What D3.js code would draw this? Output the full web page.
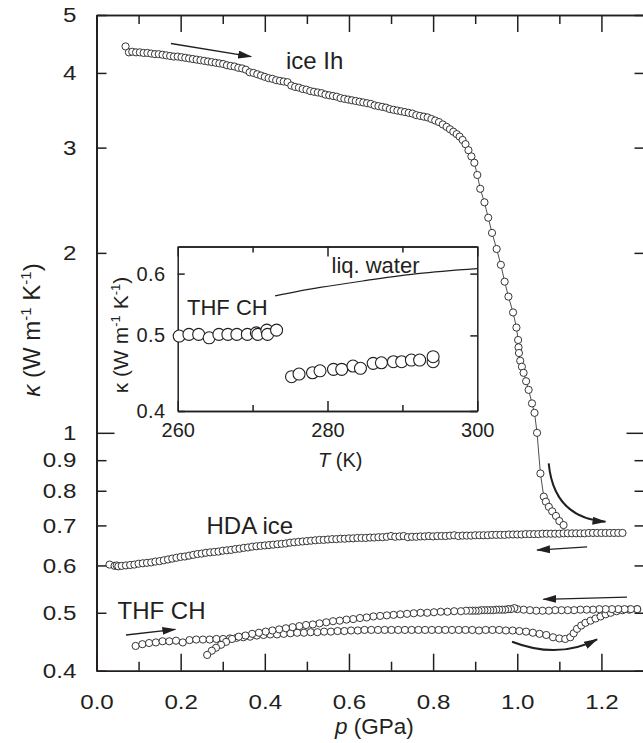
<!DOCTYPE html>
<html><head><meta charset="utf-8">
<script src="https://cdn.jsdelivr.net/npm/d3@7"></script>
<style>
html,body{margin:0;padding:0;background:#fff;}
svg{display:block;font-family:"Liberation Sans",Arial,Helvetica,sans-serif;}
.axis path,.axis line{stroke:#231f20;stroke-width:1.5;}
.axis text{fill:#231f20;}
</style></head><body>
<svg id="chart" width="643" height="743"></svg>
<script>
// ---------------- data ----------------
const xTicksMajor = [0,0.2,0.4,0.6,0.8,1.0,1.2];
const xTicksMinor = [0.1,0.3,0.5,0.7,0.9,1.1];
const yTicksShort = [0.4,0.5,0.6,0.7,0.8,0.9,2,3,4,5];
const yTicksLong = [1];
const yTickLabels = [0.4,0.5,0.6,0.7,0.8,0.9,1,2,3,4,5];

// ice Ih (compression) [p GPa, kappa]
const iceIh = [[0.069,4.43],[0.077,4.33],[0.085,4.34],[0.094,4.33],[0.103,4.33],[0.112,4.32],[0.121,4.32],[0.130,4.31],[0.139,4.30],[0.148,4.30],[0.157,4.29],[0.166,4.28],[0.175,4.27],[0.184,4.26],[0.193,4.26],[0.202,4.25],[0.211,4.24],[0.220,4.23],[0.229,4.22],[0.238,4.21],[0.247,4.20],[0.256,4.19],[0.265,4.18],[0.274,4.17],[0.283,4.16],[0.292,4.15],[0.301,4.14],[0.310,4.12],[0.319,4.11],[0.328,4.10],[0.337,4.08],[0.346,4.07],[0.355,4.05],[0.364,4.01],[0.373,4.00],[0.382,3.98],[0.391,3.96],[0.400,3.94],[0.409,3.92],[0.418,3.91],[0.427,3.89],[0.436,3.88],[0.445,3.87],[0.454,3.86],[0.463,3.81],[0.472,3.79],[0.481,3.78],[0.490,3.76],[0.499,3.75],[0.508,3.73],[0.517,3.72],[0.526,3.71],[0.535,3.70],[0.544,3.68],[0.553,3.67],[0.562,3.66],[0.571,3.65],[0.580,3.63],[0.589,3.62],[0.598,3.61],[0.607,3.60],[0.616,3.59],[0.625,3.58],[0.634,3.57],[0.643,3.56],[0.652,3.55],[0.661,3.53],[0.670,3.52],[0.679,3.51],[0.688,3.50],[0.697,3.48],[0.706,3.47],[0.715,3.46],[0.724,3.45],[0.733,3.44],[0.742,3.43],[0.751,3.42],[0.760,3.40],[0.769,3.39],[0.778,3.38],[0.787,3.37],[0.796,3.35],[0.805,3.33],[0.814,3.31],[0.823,3.28],[0.832,3.25],[0.840,3.22],[0.848,3.19],[0.856,3.16],[0.863,3.13],[0.870,3.09],[0.877,3.04],[0.884,2.97],[0.891,2.90],[0.898,2.83],[0.905,2.70],[0.912,2.56],[0.922,2.43],[0.931,2.29],[0.940,2.16],[0.951,2.03],[0.961,1.91],[0.970,1.79],[0.979,1.69],[0.990,1.59],[0.998,1.50],[1.002,1.43],[1.003,1.39],[1.004,1.36],[1.007,1.32],[1.011,1.29],[1.015,1.26],[1.021,1.22],[1.027,1.18],[1.035,1.12],[1.041,1.08],[1.047,1.00],[1.055,0.855],[1.063,0.782],[1.068,0.767],[1.075,0.752],[1.083,0.739],[1.092,0.726],[1.100,0.712],[1.110,0.701]];

// HDA ice (decompression)
const hdaIce = [[0.031,0.602],[0.043,0.599],[0.048,0.600],[0.052,0.598],[0.06,0.599],[0.07,0.600],[0.08,0.601],[0.09,0.602],[0.10,0.604],[0.11,0.605],[0.12,0.606],[0.13,0.607],[0.14,0.609],[0.15,0.610],[0.16,0.612],[0.17,0.614],[0.18,0.616],[0.19,0.618],[0.20,0.620],[0.21,0.621],[0.22,0.623],[0.23,0.625],[0.24,0.627],[0.25,0.628],[0.26,0.630],[0.27,0.631],[0.28,0.632],[0.29,0.633],[0.30,0.635],[0.31,0.636],[0.32,0.637],[0.33,0.639],[0.34,0.640],[0.35,0.642],[0.36,0.643],[0.37,0.645],[0.38,0.646],[0.39,0.647],[0.40,0.648],[0.41,0.649],[0.42,0.650],[0.43,0.651],[0.44,0.652],[0.45,0.653],[0.46,0.655],[0.47,0.656],[0.48,0.657],[0.49,0.658],[0.50,0.659],[0.51,0.660],[0.52,0.661],[0.53,0.662],[0.54,0.662],[0.55,0.663],[0.56,0.664],[0.57,0.664],[0.58,0.665],[0.59,0.665],[0.60,0.666],[0.61,0.666],[0.62,0.667],[0.63,0.667],[0.64,0.667],[0.65,0.668],[0.66,0.668],[0.67,0.669],[0.68,0.669],[0.69,0.670],[0.70,0.672],[0.71,0.670],[0.72,0.671],[0.73,0.672],[0.74,0.669],[0.75,0.670],[0.76,0.670],[0.77,0.671],[0.78,0.671],[0.79,0.672],[0.80,0.671],[0.81,0.672],[0.82,0.672],[0.83,0.672],[0.84,0.673],[0.85,0.674],[0.86,0.672],[0.87,0.673],[0.88,0.673],[0.89,0.673],[0.90,0.674],[0.91,0.674],[0.92,0.674],[0.93,0.674],[0.94,0.675],[0.95,0.675],[0.96,0.675],[0.97,0.675],[0.98,0.676],[0.99,0.676],[1.00,0.676],[1.01,0.676],[1.02,0.677],[1.03,0.677],[1.04,0.677],[1.05,0.677],[1.06,0.678],[1.07,0.678],[1.08,0.678],[1.09,0.678],[1.10,0.678],[1.11,0.679],[1.12,0.679],[1.13,0.679],[1.14,0.679],[1.15,0.679],[1.16,0.679],[1.17,0.680],[1.18,0.680],[1.19,0.680],[1.20,0.680],[1.21,0.680],[1.22,0.680],[1.23,0.680],[1.24,0.680],[1.25,0.680]];

// THF CH compression
const thfUp = [[0.093,0.440],[0.109,0.443],[0.125,0.445],[0.141,0.446],[0.157,0.448],[0.173,0.448],[0.189,0.449],[0.205,0.446],[0.221,0.450],[0.237,0.451],[0.253,0.451],[0.269,0.451],[0.285,0.452],[0.301,0.452],[0.317,0.453],[0.333,0.454],[0.349,0.455],[0.365,0.456],[0.381,0.458],[0.397,0.459],[0.413,0.460],[0.429,0.460],[0.445,0.461],[0.461,0.462],[0.477,0.463],[0.493,0.463],[0.509,0.464],[0.525,0.464],[0.541,0.465],[0.557,0.465],[0.573,0.466],[0.589,0.466],[0.605,0.467],[0.621,0.467],[0.637,0.468],[0.653,0.468],[0.669,0.468],[0.685,0.468],[0.701,0.468],[0.717,0.468],[0.733,0.468],[0.749,0.468],[0.765,0.468],[0.781,0.468],[0.797,0.468],[0.813,0.468],[0.829,0.468],[0.845,0.468],[0.861,0.468],[0.877,0.468],[0.893,0.468],[0.909,0.467],[0.925,0.468],[0.941,0.468],[0.957,0.468],[0.973,0.467],[0.989,0.467],[1.005,0.466],[1.021,0.465],[1.037,0.463],[1.053,0.461],[1.069,0.459],[1.085,0.455],[1.100,0.453],[1.114,0.452],[1.126,0.455],[1.134,0.462],[1.142,0.470],[1.152,0.476],[1.162,0.481],[1.174,0.485],[1.186,0.489],[1.198,0.493],[1.210,0.497],[1.222,0.500],[1.236,0.503],[1.250,0.505],[1.266,0.506],[1.285,0.507]];

// THF CH decompression
const thfDown = [[1.285,0.507],[1.270,0.507],[1.255,0.507],[1.240,0.507],[1.225,0.507],[1.210,0.507],[1.195,0.507],[1.180,0.506],[1.165,0.506],[1.150,0.506],[1.135,0.505],[1.120,0.505],[1.105,0.505],[1.090,0.505],[1.075,0.504],[1.060,0.504],[1.045,0.504],[1.030,0.505],[1.015,0.506],[1.000,0.507],[0.993,0.509],[0.985,0.507],[0.978,0.507],[0.971,0.506],[0.964,0.506],[0.957,0.506],[0.950,0.506],[0.943,0.505],[0.936,0.505],[0.929,0.505],[0.922,0.505],[0.915,0.505],[0.908,0.504],[0.901,0.504],[0.894,0.504],[0.887,0.504],[0.878,0.504],[0.866,0.503],[0.850,0.503],[0.834,0.502],[0.818,0.502],[0.802,0.501],[0.786,0.500],[0.770,0.500],[0.754,0.499],[0.738,0.498],[0.722,0.497],[0.706,0.496],[0.690,0.495],[0.674,0.494],[0.658,0.493],[0.642,0.491],[0.626,0.490],[0.610,0.488],[0.594,0.487],[0.578,0.485],[0.562,0.484],[0.546,0.482],[0.530,0.480],[0.514,0.478],[0.498,0.477],[0.482,0.475],[0.466,0.473],[0.450,0.471],[0.434,0.469],[0.418,0.467],[0.402,0.465],[0.386,0.463],[0.370,0.461],[0.354,0.458],[0.338,0.456],[0.322,0.452],[0.308,0.447],[0.296,0.442],[0.284,0.437],[0.274,0.432],[0.263,0.425]];

// inset: T (K) vs kappa
const insetXTicksMajor = [260,280,300];
const insetXTicksMinor = [270,290];
const insetYTicks = [0.4,0.5,0.6];
const insetSolid = [[260.2,0.499],[261.5,0.5015],[262.8,0.5015],[264.2,0.4965],[265.5,0.5015],[266.7,0.5015],[267.9,0.5015],[269.3,0.5015],[270.5,0.5038],[270.7,0.5015],[271.9,0.5078],[272.0,0.5015],[273.2,0.5078]];
const insetLiquid = [[275.2,0.4426],[276.2,0.4461],[278.0,0.4478],[279.0,0.4504],[280.8,0.4523],[281.9,0.4523],[283.4,0.4568],[284.4,0.4537],[286.1,0.4604],[287.2,0.4612],[288.8,0.4626],[289.9,0.4626],[291.2,0.4649],[292.3,0.4649],[294.1,0.4626],[294.1,0.4695]];
const liqWater = [[273.0,0.562],[279.0,0.576],[285.2,0.588],[292.0,0.600],[300.0,0.609]];

// arrows (data coordinates)
const arrowStraight = [
  [[0.177,4.48],[0.3675,4.26]],
  [[0.070,0.459],[0.1874,0.469]],
  [[1.166,0.6446],[1.047,0.6367]],
  [[1.2607,0.5312],[1.062,0.5266]]
];
const arrowCurved = [
  [[1.0747,0.889],[1.087,0.721],[1.2096,0.710]],
  [[0.9876,0.4472],[1.0973,0.4175],[1.1898,0.4514]]
];

// ---------------- drawing ----------------
const ink = "#231f20";
const svg = d3.select("#chart");
const x = d3.scaleLinear().domain([0,1.3]).range([96.5,643.5]);
const y = d3.scaleLog().domain([0.4,5]).range([670.7,15]);

const defs = svg.append("defs");
defs.append("marker").attr("id","ah").attr("viewBox","0 0 14 8").attr("refX",13).attr("refY",4)
  .attr("markerWidth",14).attr("markerHeight",8).attr("markerUnits","userSpaceOnUse").attr("orient","auto")
  .append("path").attr("d","M0,0 L14,4 L0,8 Z").attr("fill",ink);

// main axes
svg.append("g").attr("class","axis").attr("transform","translate(0,670.7)")
  .call(d3.axisBottom(x).tickValues(xTicksMajor).tickSize(-17).tickSizeOuter(0).tickPadding(23).tickFormat(d3.format(".1f")))
  .call(g=>g.selectAll("text").attr("font-size",21).attr("transform","scale(1.15,1)"));
svg.append("g").attr("class","axis").attr("transform","translate(0,670.7)")
  .call(d3.axisBottom(x).tickValues(xTicksMinor).tickSize(-9).tickSizeOuter(0).tickFormat(""));
svg.append("g").attr("class","axis").attr("transform","translate(0,15)")
  .call(d3.axisTop(x).tickValues(xTicksMajor).tickSize(-17).tickSizeOuter(0).tickFormat(""));
svg.append("g").attr("class","axis").attr("transform","translate(0,15)")
  .call(d3.axisTop(x).tickValues(xTicksMinor).tickSize(-9).tickSizeOuter(0).tickFormat(""));

const fmtY = d=> d>=1 ? d3.format("d")(d) : d3.format(".1f")(d);
svg.append("g").attr("class","axis").attr("transform","translate(96.5,0)")
  .call(d3.axisLeft(y).tickValues(yTickLabels).tickSize(0).tickSizeOuter(0).tickPadding(17.5).tickFormat(fmtY))
  .call(g=>g.selectAll("text").attr("font-size",21).attr("transform","scale(1.15,1)"));
svg.append("g").attr("class","axis").attr("transform","translate(96.5,0)")
  .call(d3.axisLeft(y).tickValues(yTicksShort).tickSize(-10).tickSizeOuter(0).tickFormat(""));
svg.append("g").attr("class","axis").attr("transform","translate(96.5,0)")
  .call(d3.axisLeft(y).tickValues(yTicksLong).tickSize(-18).tickSizeOuter(0).tickFormat(""));
svg.append("g").attr("class","axis").attr("transform","translate(643.5,0)")
  .call(d3.axisRight(y).tickValues(yTicksShort).tickSize(-9).tickSizeOuter(0).tickFormat(""));
svg.append("g").attr("class","axis").attr("transform","translate(643.5,0)")
  .call(d3.axisRight(y).tickValues(yTicksLong).tickSize(-17).tickSizeOuter(0).tickFormat(""));
svg.selectAll(".axis .domain").attr("stroke-width",1.6);

// axis titles
const yt = svg.append("text").attr("transform","translate(40,330) rotate(-90)").attr("text-anchor","middle")
  .attr("font-size",24).attr("fill",ink);
yt.append("tspan").attr("font-style","italic").text("κ");
yt.append("tspan").text(" (W m");
yt.append("tspan").attr("font-size",15).attr("dy",-9).text("-1");
yt.append("tspan").attr("dy",9).text(" K");
yt.append("tspan").attr("font-size",15).attr("dy",-9).text("-1");
yt.append("tspan").attr("dy",9).text(")");

const xt = svg.append("text").attr("x",335).attr("y",734).attr("font-size",22.5).attr("fill",ink);
xt.append("tspan").attr("font-style","italic").text("p");
xt.append("tspan").text(" (GPa)");

// ice Ih connecting line
svg.append("path").datum(iceIh).attr("fill","none").attr("stroke",ink).attr("stroke-width",0.8)
  .attr("d",d3.line().x(d=>x(d[0])).y(d=>y(d[1])));

function dots(data,r){
  svg.append("g").selectAll("circle").data(data).join("circle")
    .attr("cx",d=>x(d[0])).attr("cy",d=>y(d[1])).attr("r",r)
    .attr("fill","#fff").attr("stroke",ink).attr("stroke-width",0.9);
}
dots(hdaIce,3.6);
dots(thfUp,3.6);
dots(thfDown,3.6);
dots(iceIh,3.6);

// arrows
arrowStraight.forEach(a=>{
  svg.append("path").attr("d",d3.line().x(d=>x(d[0])).y(d=>y(d[1]))(a))
    .attr("stroke",ink).attr("stroke-width",1.3).attr("fill","none").attr("marker-end","url(#ah)");
});
arrowCurved.forEach(a=>{
  const p0=a[0],c=a[1],p2=a[2];
  svg.append("path").attr("d",`M${x(p0[0])},${y(p0[1])} Q${x(c[0])},${y(c[1])} ${x(p2[0])},${y(p2[1])}`)
    .attr("stroke",ink).attr("stroke-width",2).attr("fill","none").attr("marker-end","url(#ah)");
});

// labels
function label(t,xx,yy,fs){ svg.append("text").attr("x",xx).attr("y",yy).attr("font-size",fs).attr("fill",ink).text(t); }
label("ice Ih",286,69,24);
label("HDA ice",206.5,534,24);
label("THF CH",117.5,619,24);

// ---------------- inset ----------------
const ix = d3.scaleLinear().domain([260,300]).range([177.7,477.3]);
const iy = d3.scaleLog().domain([0.4,0.65]).range([411,246.5]);
const ins = svg.append("g");
ins.append("rect").attr("x",177.7).attr("y",246.5).attr("width",299.6).attr("height",164.5).attr("fill","#fff");

function iax(g){ g.selectAll(".domain").attr("stroke",ink).attr("stroke-width",1.3); g.selectAll("line").attr("stroke",ink).attr("stroke-width",1.3); }
ins.append("g").attr("class","axis").attr("transform","translate(0,411)")
  .call(d3.axisBottom(ix).tickValues(insetXTicksMajor).tickSize(-10).tickSizeOuter(0).tickPadding(12).tickFormat(d3.format("d")))
  .call(g=>g.selectAll("text").attr("font-size",20)).call(iax);
ins.append("g").attr("class","axis").attr("transform","translate(0,411)")
  .call(d3.axisBottom(ix).tickValues(insetXTicksMinor).tickSize(-6).tickSizeOuter(0).tickFormat("")).call(iax);
ins.append("g").attr("class","axis").attr("transform","translate(0,246.5)")
  .call(d3.axisTop(ix).tickValues(insetXTicksMajor).tickSize(-10).tickSizeOuter(0).tickFormat("")).call(iax);
ins.append("g").attr("class","axis").attr("transform","translate(0,246.5)")
  .call(d3.axisTop(ix).tickValues(insetXTicksMinor).tickSize(-6).tickSizeOuter(0).tickFormat("")).call(iax);
ins.append("g").attr("class","axis").attr("transform","translate(177.7,0)")
  .call(d3.axisLeft(iy).tickValues(insetYTicks).tickSize(-7).tickSizeOuter(0).tickPadding(12).tickFormat(d3.format(".1f")))
  .call(g=>g.selectAll("text").attr("font-size",20).attr("letter-spacing","0.5px")).call(iax);
ins.append("g").attr("class","axis").attr("transform","translate(477.3,0)")
  .call(d3.axisRight(iy).tickValues(insetYTicks).tickSize(-7).tickSizeOuter(0).tickFormat("")).call(iax);

ins.append("path").datum(liqWater).attr("fill","none").attr("stroke",ink).attr("stroke-width",1.2)
  .attr("d",d3.line().curve(d3.curveMonotoneX).x(d=>ix(d[0])).y(d=>iy(d[1])));

[insetSolid,insetLiquid].forEach(data=>{
  ins.append("g").selectAll("circle").data(data).join("circle")
    .attr("cx",d=>ix(d[0])).attr("cy",d=>iy(d[1])).attr("r",6)
    .attr("fill","#fff").attr("stroke",ink).attr("stroke-width",1.1);
});

const it = ins.append("text").attr("transform","translate(128,335) rotate(-90)").attr("text-anchor","middle")
  .attr("font-size",21).attr("fill",ink);
it.append("tspan").text("κ (W m");
it.append("tspan").attr("font-size",13).attr("dy",-8).text("-1");
it.append("tspan").attr("dy",8).text(" K");
it.append("tspan").attr("font-size",13).attr("dy",-8).text("-1");
it.append("tspan").attr("dy",8).text(")");

const itx = ins.append("text").attr("x",318).attr("y",467).attr("font-size",20).attr("fill",ink);
itx.append("tspan").attr("font-style","italic").text("T");
itx.append("tspan").text(" (K)");

ins.append("text").attr("x",187).attr("y",315).attr("font-size",22).attr("fill",ink).text("THF CH");
ins.append("text").attr("x",331.5).attr("y",273).attr("font-size",22).attr("fill",ink).text("liq. water");
</script>
</body></html>
